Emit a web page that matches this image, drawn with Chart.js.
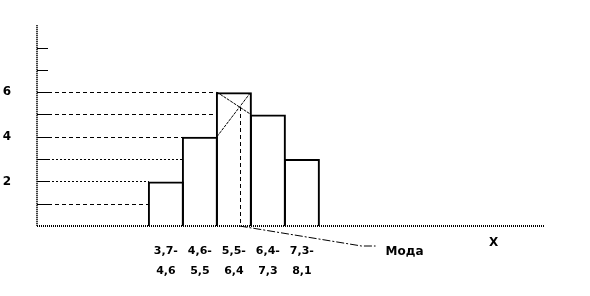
<!DOCTYPE html>
<html><head><meta charset="utf-8">
<script src="https://cdn.jsdelivr.net/npm/chart.js@4/dist/chart.umd.min.js"></script>
<style>html,body{margin:0;padding:0;background:#fff}#wrap{width:590px;height:296px}</style>
</head><body><div id="wrap"><canvas id="c" width="590" height="296"></canvas></div>
<script>
const categories = [["3,7-","4,6"],["4,6-","5,5"],["5,5-","6,4"],["6,4-","7,3"],["7,3-","8,1"]];
const frequencies = [2,4,6,5,3];
const yTickLabels = [2,4,6];
const yTickMarks = [1,2,3,4,5,6,7,8];
const guideLevels = [1,2,3,4,5,6];
const dottedLevels = [2,3];
const modeLabel = "Мода";
const axisLabel = "X";

const FONT = "'DejaVu Sans', Verdana, sans-serif";

const overlay = {
  id: 'overlay',
  afterDatasetsDraw(chart) {
    const ctx = chart.ctx, xs = chart.scales.x, ys = chart.scales.y, ca = chart.chartArea;
    const base = ys.getPixelForValue(0);
    ctx.save();
    ctx.strokeStyle = '#000';
    // axes (dotted look)
    ctx.lineWidth = 2; ctx.setLineDash([1,1]);
    ctx.beginPath(); ctx.moveTo(ca.left, ca.top); ctx.lineTo(ca.left, base); ctx.stroke();
    ctx.beginPath(); ctx.moveTo(ca.left, base); ctx.lineTo(ca.right, base); ctx.stroke();
    // y tick marks
    ctx.setLineDash([]); ctx.lineWidth = 1;
    yTickMarks.forEach(v => {
      const y = Math.round(ys.getPixelForValue(v)) + 0.5;
      ctx.beginPath(); ctx.moveTo(ca.left, y); ctx.lineTo(ca.left + 11, y); ctx.stroke();
    });
    // guide lines to bars
    guideLevels.forEach(v => {
      const idx = frequencies.findIndex(f => f >= v);
      if (idx < 0) return;
      const xEnd = xs.getPixelForValue(idx - 0.5);
      const y = Math.round(ys.getPixelForValue(v)) + 0.5;
      ctx.setLineDash(dottedLevels.includes(v) ? [2,2] : [4,3]);
      ctx.beginPath(); ctx.moveTo(ca.left + 11, y); ctx.lineTo(xEnd, y); ctx.stroke();
    });
    // mode construction
    const m = frequencies.indexOf(Math.max(...frequencies));
    const xl = xs.getPixelForValue(m - 0.5), xr = xs.getPixelForValue(m + 0.5);
    const yTop = ys.getPixelForValue(frequencies[m]);
    const yPrev = ys.getPixelForValue(m > 0 ? frequencies[m-1] : 0);
    const yNext = ys.getPixelForValue(m < frequencies.length-1 ? frequencies[m+1] : 0);
    ctx.setLineDash([3,1]); ctx.lineWidth = 1;
    ctx.beginPath(); ctx.moveTo(xl, yTop); ctx.lineTo(xr, yNext); ctx.stroke();
    ctx.beginPath(); ctx.moveTo(xl, yPrev); ctx.lineTo(xr, yTop); ctx.stroke();
    // intersection
    const s1 = (yNext - yTop) / (xr - xl), s2 = (yTop - yPrev) / (xr - xl);
    const xi = xl + (yPrev - yTop) / (s1 - s2);
    const yi = yTop + s1 * (xi - xl);
    ctx.setLineDash([4,3]);
    ctx.beginPath(); ctx.moveTo(Math.round(xi)+0.5, yi); ctx.lineTo(Math.round(xi)+0.5, base); ctx.stroke();
    // leader line to label
    ctx.setLineDash([8,2,2,2]);
    ctx.beginPath(); ctx.moveTo(xi, base); ctx.lineTo(xi + 122, base + 20); ctx.lineTo(xi + 136, base + 20); ctx.stroke();
    ctx.setLineDash([]);
    ctx.fillStyle = '#000';
    ctx.font = 'bold 12px ' + FONT;
    ctx.textBaseline = 'middle'; ctx.textAlign = 'left';
    ctx.fillText(modeLabel, xi + 146, base + 26);
    ctx.fillText(axisLabel, xs.getPixelForValue(9.5), base + 17);
    ctx.restore();
  }
};

new Chart(document.getElementById('c'), {
  type: 'bar',
  data: {
    datasets: [{
      data: frequencies.map((v, i) => ({x: i, y: v})),
      backgroundColor: 'rgba(0,0,0,0)',
      borderColor: '#000',
      borderWidth: {top: 2, left: 2, right: 2, bottom: 0},
      borderSkipped: false,
      barPercentage: 36 / 34,
      categoryPercentage: 1
    }]
  },
  options: {
    responsive: false,
    animation: false,
    devicePixelRatio: 1,
    layout: {padding: {top: 23, right: 46, left: 0, bottom: 0}},
    plugins: {legend: {display: false}, tooltip: {enabled: false}},
    scales: {
      x: {
        type: 'linear',
        offset: false,
        min: -3.79, max: 11.12,
        grid: {display: false},
        border: {display: false},
        afterBuildTicks: (s) => { s.ticks = categories.map((_, i) => ({value: i})); },
        afterFit: (s) => { s.height = 70; },
        ticks: {
          padding: 7,
          autoSkip: false,
          maxRotation: 0,
          color: '#000',
          font: {family: FONT, size: 11, weight: 'bold', lineHeight: 1.8},
          callback: (v) => categories[v] || ''
        }
      },
      y: {
        min: 0, max: 9,
        grid: {display: false},
        border: {display: false},
        afterBuildTicks: (s) => { s.ticks = yTickLabels.map(v => ({value: v})); },
        afterFit: (s) => { s.width = 37; },
        ticks: {
          padding: 18,
          color: '#000',
          font: {family: FONT, size: 12, weight: 'bold'}
        }
      }
    }
  },
  plugins: [overlay]
});
</script></body></html>
